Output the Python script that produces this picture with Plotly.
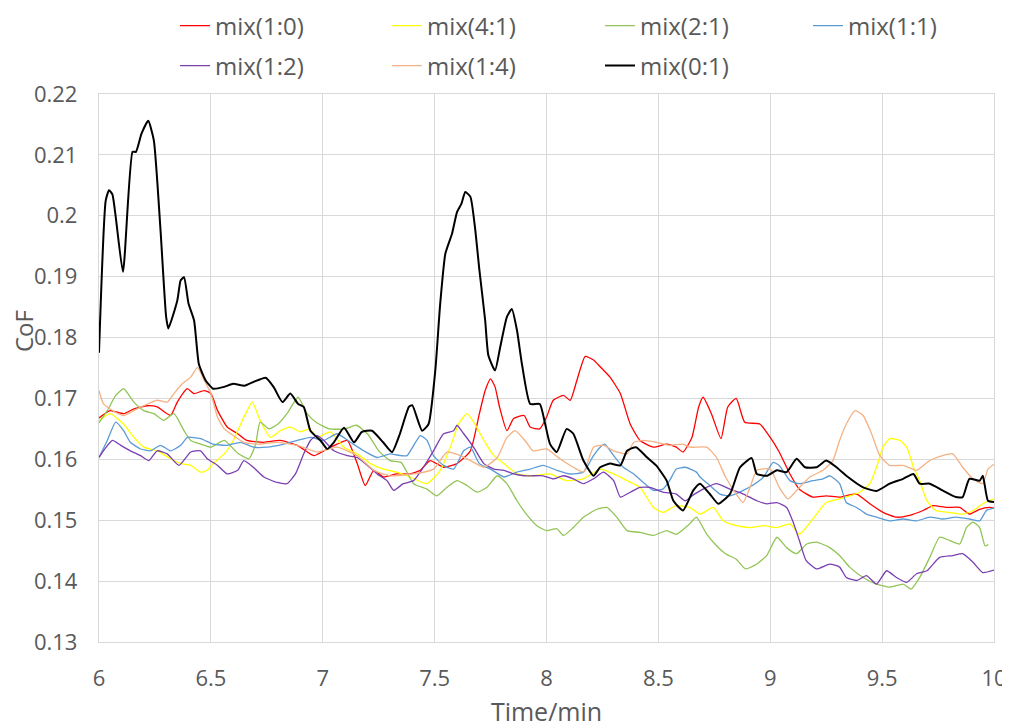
import plotly.graph_objects as go

# ---- data (time in min, CoF) ----
mix_1_0 = [(6.0,0.1668),(6.05,0.1680),(6.11,0.1675),(6.156,0.1683),(6.216,0.1688),(6.26,0.1686),(6.32,0.1672),
           (6.35,0.1694),(6.395,0.1716),(6.424,0.1708),(6.47,0.1713),(6.5,0.1708),(6.53,0.1680),(6.573,0.1653),
           (6.62,0.1642),(6.66,0.1631),(6.737,0.1628),(6.81,0.1631),(6.886,0.1623),(6.96,0.1606),(7.005,0.1614),
           (7.064,0.1625),(7.11,0.1631),(7.154,0.1593),(7.19,0.1557),(7.228,0.1582),(7.272,0.1571),(7.33,0.1576),
           (7.39,0.1576),(7.436,0.1582),(7.48,0.1598),(7.54,0.1587),(7.60,0.1593),(7.66,0.1614),(7.70,0.1675),
           (7.726,0.1713),(7.75,0.1732),(7.77,0.1719),(7.79,0.1686),(7.823,0.1647),(7.853,0.1667),(7.90,0.1672),
           (7.927,0.1653),(7.97,0.1650),(8.0,0.1669),(8.03,0.1697),(8.076,0.1705),(8.106,0.1697),(8.136,0.1730),
           (8.173,0.1769),(8.21,0.1763),(8.24,0.1752),(8.284,0.1735),(8.33,0.1708),(8.374,0.1658),(8.418,0.1631),
           (8.478,0.1620),(8.537,0.1625),(8.58,0.1620),(8.61,0.1612),(8.65,0.1636),(8.68,0.1686),(8.70,0.1702),
           (8.737,0.1675),(8.78,0.1634),(8.81,0.1686),(8.848,0.1700),(8.886,0.1661),(8.953,0.1658),(9.0,0.1636),
           (9.04,0.1612),(9.088,0.1576),(9.13,0.1551),(9.19,0.1538),(9.25,0.1540),(9.31,0.1538),(9.386,0.1543),
           (9.445,0.1527),(9.504,0.1513),(9.564,0.1505),(9.623,0.1508),(9.683,0.1516),(9.728,0.1524),(9.787,0.1521),
           (9.847,0.1521),(9.89,0.1510),(9.936,0.1518),(9.98,0.1521),(10.0,0.1520)]

mix_4_1 = [(6.0,0.1664),(6.05,0.1675),(6.11,0.1658),(6.156,0.1636),(6.2,0.1620),(6.26,0.1614),(6.32,0.1601),
           (6.365,0.1593),(6.41,0.1590),(6.454,0.1579),(6.484,0.1582),(6.51,0.1593),(6.56,0.1609),(6.60,0.1631),
           (6.647,0.1669),(6.685,0.1694),(6.72,0.1664),(6.766,0.1636),(6.81,0.1647),(6.855,0.1653),(6.90,0.1645),
           (6.94,0.1650),(6.975,0.1636),(7.034,0.1645),(7.094,0.1620),(7.154,0.1609),(7.213,0.1593),(7.272,0.1584),
           (7.33,0.1579),(7.39,0.1571),(7.466,0.1560),(7.525,0.1582),(7.57,0.1620),(7.607,0.1658),(7.645,0.1675),
           (7.68,0.1658),(7.72,0.1631),(7.765,0.1606),(7.81,0.1593),(7.868,0.1576),(7.94,0.1573),(8.016,0.1576),
           (8.09,0.1565),(8.165,0.1568),(8.24,0.1584),(8.3,0.1576),(8.36,0.1565),(8.418,0.1554),(8.478,0.1521),
           (8.52,0.1513),(8.58,0.1524),(8.64,0.1521),(8.686,0.1510),(8.746,0.1521),(8.79,0.1499),(8.85,0.1491),
           (8.91,0.1488),(8.97,0.1491),(9.03,0.1488),(9.088,0.1494),(9.13,0.1477),(9.16,0.1488),(9.207,0.1510),
           (9.25,0.1529),(9.31,0.1535),(9.355,0.1540),(9.40,0.1546),(9.445,0.1560),(9.475,0.1587),(9.504,0.1620),
           (9.534,0.1634),(9.58,0.1631),(9.61,0.1620),(9.64,0.1587),(9.668,0.1565),(9.70,0.1532),(9.74,0.1516),
           (9.80,0.1513),(9.86,0.1510),(9.906,0.1516),(9.95,0.1527),(10.0,0.1535)]

mix_2_1 = [(6.0,0.1660),(6.037,0.1680),(6.075,0.1705),(6.11,0.1716),(6.156,0.1694),(6.2,0.1680),(6.245,0.1675),
           (6.29,0.1664),(6.335,0.1675),(6.38,0.1647),(6.41,0.1631),(6.454,0.1625),(6.5,0.1620),(6.56,0.1631),
           (6.62,0.1610),(6.67,0.1601),(6.70,0.1625),(6.72,0.1661),(6.76,0.1650),(6.80,0.1658),(6.84,0.1675),
           (6.89,0.1702),(6.93,0.1675),(6.97,0.1661),(7.03,0.1650),(7.1,0.1650),(7.15,0.1656),(7.2,0.1642),
           (7.25,0.1614),(7.3,0.1598),(7.35,0.1595),(7.406,0.1560),(7.466,0.1551),(7.51,0.1540),(7.555,0.1554),
           (7.60,0.1565),(7.645,0.1557),(7.69,0.1546),(7.734,0.1554),(7.78,0.1573),(7.823,0.1560),(7.868,0.1532),
           (7.91,0.1510),(7.957,0.1491),(8.0,0.1483),(8.046,0.1486),(8.076,0.1475),(8.12,0.1488),(8.165,0.1505),
           (8.225,0.1518),(8.27,0.1521),(8.314,0.1505),(8.36,0.1483),(8.418,0.1480),(8.478,0.1475),(8.537,0.1483),
           (8.58,0.1477),(8.64,0.1494),(8.67,0.1505),(8.716,0.1477),(8.76,0.1458),(8.80,0.1445),(8.848,0.1436),
           (8.89,0.1420),(8.94,0.1428),(8.984,0.1442),(9.03,0.1472),(9.073,0.1455),(9.118,0.1445),(9.163,0.1461),
           (9.207,0.1464),(9.266,0.1455),(9.31,0.1442),(9.355,0.1423),(9.415,0.1406),(9.475,0.1395),(9.534,0.1390),
           (9.594,0.1395),(9.63,0.1387),(9.668,0.1406),(9.713,0.1439),(9.757,0.1472),(9.80,0.1467),(9.847,0.1461),
           (9.877,0.1488),(9.906,0.1497),(9.936,0.1488),(9.96,0.1458),(9.975,0.1460)]

mix_1_1 = [(6.0,0.1603),(6.037,0.1631),(6.075,0.1661),(6.11,0.1647),(6.14,0.1628),(6.186,0.1617),(6.23,0.1614),
           (6.275,0.1623),(6.32,0.1614),(6.365,0.1623),(6.395,0.1636),(6.454,0.1634),(6.51,0.1625),(6.573,0.1623),
           (6.633,0.1628),(6.69,0.1620),(6.75,0.1620),(6.826,0.1625),(6.886,0.1631),(6.945,0.1636),(7.005,0.1631),
           (7.064,0.1642),(7.124,0.1628),(7.183,0.1614),(7.243,0.1603),(7.30,0.1609),(7.35,0.1606),(7.377,0.1606),
           (7.436,0.1639),(7.466,0.1631),(7.495,0.1606),(7.54,0.1590),(7.585,0.1584),(7.63,0.1614),(7.66,0.1620),
           (7.70,0.1593),(7.75,0.1584),(7.81,0.1571),(7.868,0.1579),(7.927,0.1584),(7.985,0.1590),(8.046,0.1582),
           (8.106,0.1576),(8.165,0.1579),(8.21,0.1606),(8.24,0.1620),(8.26,0.1625),(8.3,0.1606),(8.343,0.1587),
           (8.39,0.1576),(8.433,0.1562),(8.478,0.1549),(8.52,0.1551),(8.55,0.1565),(8.58,0.1584),(8.62,0.1587),
           (8.67,0.1579),(8.686,0.1571),(8.73,0.1557),(8.775,0.1543),(8.82,0.1540),(8.88,0.1549),(8.92,0.1557),
           (8.97,0.1571),(9.013,0.1595),(9.04,0.1590),(9.088,0.1565),(9.13,0.1560),(9.19,0.1565),(9.236,0.1568),
           (9.266,0.1573),(9.31,0.1560),(9.34,0.1529),(9.386,0.1521),(9.43,0.1510),(9.475,0.1505),(9.534,0.1499),
           (9.594,0.1502),(9.654,0.1499),(9.713,0.1505),(9.77,0.1502),(9.83,0.1505),(9.89,0.1502),(9.936,0.1499),
           (9.966,0.1516),(10.0,0.1520)]

mix_1_2 = [(6.0,0.1603),(6.02,0.1614),(6.06,0.1631),(6.097,0.1623),(6.14,0.1614),(6.186,0.1606),(6.223,0.1598),
           (6.26,0.1614),(6.305,0.1609),(6.357,0.1590),(6.41,0.1612),(6.454,0.1614),(6.484,0.1601),(6.53,0.1590),
           (6.573,0.1576),(6.62,0.1582),(6.647,0.1598),(6.69,0.1587),(6.737,0.1571),(6.796,0.1562),(6.84,0.1560),
           (6.878,0.1576),(6.915,0.1609),(6.945,0.1631),(6.975,0.1639),(7.005,0.1631),(7.05,0.1614),(7.11,0.1606),
           (7.154,0.1603),(7.2,0.1590),(7.243,0.1576),(7.287,0.1565),(7.317,0.1549),(7.36,0.1560),(7.406,0.1565),
           (7.45,0.1587),(7.495,0.1614),(7.54,0.1642),(7.585,0.1647),(7.60,0.1656),(7.63,0.1642),(7.674,0.1620),
           (7.72,0.1593),(7.765,0.1584),(7.81,0.1582),(7.853,0.1576),(7.90,0.1573),(7.94,0.1573),(7.985,0.1573),
           (8.03,0.1568),(8.076,0.1573),(8.12,0.1568),(8.165,0.1560),(8.21,0.1568),(8.255,0.1579),(8.3,0.1565),
           (8.33,0.1538),(8.374,0.1546),(8.418,0.1554),(8.463,0.1554),(8.52,0.1546),(8.58,0.1543),(8.62,0.1532),
           (8.65,0.1540),(8.70,0.1551),(8.76,0.1560),(8.82,0.1551),(8.88,0.1543),(8.94,0.1532),(8.984,0.1527),
           (9.03,0.1529),(9.073,0.1521),(9.1,0.1499),(9.13,0.1467),(9.16,0.1434),(9.207,0.1420),(9.266,0.1428),
           (9.31,0.1423),(9.34,0.1406),(9.386,0.1401),(9.43,0.1409),(9.475,0.1395),(9.52,0.1417),(9.564,0.1406),
           (9.61,0.1398),(9.654,0.1412),(9.70,0.1417),(9.757,0.1439),(9.816,0.1442),(9.86,0.1445),(9.906,0.1431),
           (9.95,0.1414),(10.0,0.1418)]

mix_1_4 = [(6.0,0.1713),(6.02,0.1691),(6.075,0.1677),(6.11,0.1672),(6.156,0.1680),(6.2,0.1688),(6.26,0.1697),
           (6.305,0.1694),(6.335,0.1708),(6.372,0.1724),(6.41,0.1735),(6.44,0.1751),(6.47,0.1730),(6.5,0.1708),
           (6.53,0.1669),(6.56,0.1650),(6.60,0.1639),(6.647,0.1628),(6.707,0.1625),(6.796,0.1628),(6.886,0.1623),
           (6.975,0.1612),(7.064,0.1620),(7.154,0.1606),(7.228,0.1582),(7.30,0.1573),(7.406,0.1576),(7.495,0.1584),
           (7.555,0.1612),(7.615,0.1606),(7.66,0.1598),(7.72,0.1587),(7.78,0.1603),(7.823,0.1636),(7.86,0.1647),
           (7.91,0.1628),(7.94,0.1614),(8.0,0.1617),(8.06,0.1601),(8.12,0.1587),(8.165,0.1579),(8.21,0.1620),
           (8.255,0.1623),(8.3,0.1614),(8.36,0.1609),(8.39,0.1628),(8.433,0.1631),(8.49,0.1628),(8.55,0.1623),
           (8.61,0.1625),(8.64,0.1620),(8.716,0.1620),(8.76,0.1603),(8.80,0.1571),(8.848,0.1543),(8.878,0.1529),
           (8.91,0.1554),(8.94,0.1582),(9.0,0.1584),(9.04,0.1554),(9.08,0.1535),(9.118,0.1549),(9.177,0.1571),
           (9.236,0.1582),(9.28,0.1598),(9.31,0.1631),(9.34,0.1658),(9.38,0.1680),(9.415,0.1672),(9.453,0.1642),
           (9.49,0.1606),(9.534,0.1590),(9.594,0.1590),(9.654,0.1582),(9.713,0.1598),(9.77,0.1606),(9.816,0.1609),
           (9.86,0.1587),(9.906,0.1568),(9.95,0.1560),(9.973,0.1584),(10.0,0.1592)]

mix_0_1 = [(6.0,0.1775),(6.03,0.2025),(6.045,0.2042),(6.06,0.2035),(6.107,0.1908),(6.15,0.2105),(6.165,0.2105),
           (6.19,0.2135),(6.22,0.2156),(6.245,0.2124),(6.275,0.1976),(6.3,0.1834),(6.31,0.1815),(6.35,0.1861),
           (6.365,0.1894),(6.38,0.1899),(6.40,0.1856),(6.425,0.1828),(6.446,0.1757),(6.476,0.1730),(6.51,0.1716),
           (6.56,0.1719),(6.60,0.1724),(6.65,0.1721),(6.69,0.1727),(6.745,0.1734),(6.78,0.1719),(6.82,0.1694),
           (6.855,0.1708),(6.89,0.1691),(6.915,0.1686),(6.945,0.1647),(6.99,0.1631),(7.02,0.1617),(7.05,0.1628),
           (7.095,0.1652),(7.14,0.1628),(7.175,0.1645),(7.22,0.1647),(7.27,0.1628),(7.31,0.1612),(7.345,0.1642),
           (7.385,0.1686),(7.40,0.1689),(7.444,0.1647),(7.473,0.1658),(7.503,0.1746),(7.525,0.1856),(7.548,0.1938),
           (7.578,0.1971),(7.60,0.2006),(7.62,0.2020),(7.637,0.2039),(7.66,0.2031),(7.68,0.1982),(7.70,0.1911),
           (7.726,0.1828),(7.74,0.1771),(7.77,0.1746),(7.793,0.1784),(7.823,0.1834),(7.845,0.1847),(7.868,0.1812),
           (7.89,0.1757),(7.927,0.1691),(7.97,0.1691),(7.994,0.1658),(8.016,0.1625),(8.046,0.1612),(8.09,0.1650),
           (8.12,0.1642),(8.165,0.1598),(8.21,0.1573),(8.24,0.1587),(8.284,0.1593),(8.33,0.1590),(8.36,0.1614),
           (8.40,0.1620),(8.45,0.1603),(8.49,0.1590),(8.537,0.1565),(8.567,0.1532),(8.61,0.1516),(8.656,0.1549),
           (8.686,0.1560),(8.73,0.1543),(8.768,0.1527),(8.82,0.1543),(8.865,0.1587),(8.917,0.1602),(8.94,0.1576),
           (8.984,0.1573),(9.03,0.1582),(9.073,0.1579),(9.118,0.1601),(9.155,0.1587),(9.207,0.1587),(9.25,0.1598),
           (9.296,0.1587),(9.34,0.1573),(9.415,0.1554),(9.475,0.1548),(9.534,0.1560),(9.594,0.1568),(9.64,0.1576),
           (9.668,0.1560),(9.713,0.1560),(9.77,0.1549),(9.83,0.1538),(9.86,0.1538),(9.89,0.1568),(9.936,0.1565),
           (9.95,0.1573),(9.973,0.1532),(10.0,0.1530)]

series_names = ["mix(1:0)", "mix(4:1)", "mix(2:1)", "mix(1:1)", "mix(1:2)", "mix(1:4)", "mix(0:1)"]
series_data = [mix_1_0, mix_4_1, mix_2_1, mix_1_1, mix_1_2, mix_1_4, mix_0_1]
series_colors = ["#ff0000", "#ffff00", "#92c456", "#5b9bd5", "#7a3fb0", "#f4b183", "#000000"]
series_widths = [1.3, 1.3, 1.3, 1.3, 1.3, 1.3, 2.0]

y_ticks = [0.13, 0.14, 0.15, 0.16, 0.17, 0.18, 0.19, 0.20, 0.21, 0.22]
y_ticklabels = ["0.13", "0.14", "0.15", "0.16", "0.17", "0.18", "0.19", "0.2", "0.21", "0.22"]
x_ticks = [6, 6.5, 7, 7.5, 8, 8.5, 9, 9.5, 10]
x_ticklabels = ["6", "6.5", "7", "7.5", "8", "8.5", "9", "9.5", "10"]

FONT = "'Open Sans', 'Noto Sans', sans-serif"
TXT = "#595959"
GRID = "#d9d9d9"

# the page body has an 8px margin; size the figure to fill the rest of the window
W, H = 1002, 720
OFF = 8

# legend grid: 4 columns x 2 rows (window pixel positions of entries)
legend_cols_px = [175, 387, 600, 808]
legend_rows_px = [26, 66]

fig = go.Figure()
legend_layout = {}
for i, (name, pts, col, w) in enumerate(zip(series_names, series_data, series_colors, series_widths)):
    xs = [p[0] for p in pts]
    ys = [p[1] for p in pts]
    lg = "legend" if i == 0 else f"legend{i+1}"
    fig.add_trace(go.Scatter(x=xs, y=ys, mode="lines", name=name,
                             line=dict(color=col, width=w, shape="spline", smoothing=0.5),
                             legend=lg))
    cx = legend_cols_px[i % 4] - OFF
    cy = legend_rows_px[i // 4] - OFF
    legend_layout[lg] = dict(orientation="h", xref="container", yref="container",
                             x=cx / W, y=1 - cy / H, xanchor="left", yanchor="middle",
                             font=dict(family=FONT, size=24, color=TXT),
                             bgcolor="rgba(0,0,0,0)", itemwidth=30)

fig.update_layout(
    width=W, height=H,
    margin=dict(l=99 - OFF, r=16, t=94 - OFF, b=86, autoexpand=False),
    paper_bgcolor="white", plot_bgcolor="white",
    font=dict(family=FONT, size=22, color=TXT),
    showlegend=True,
    xaxis=dict(range=[6, 10], tickvals=x_ticks, ticktext=x_ticklabels,
               showgrid=True, gridcolor=GRID, gridwidth=1.3,
               showline=True, linecolor=GRID, linewidth=1.3, mirror=True,
               ticks="", ticklabelstandoff=16, ticklabeloverflow="allow", zeroline=False,
               tickfont=dict(family=FONT, size=22, color=TXT),
               title=dict(text="Time/min", standoff=14, font=dict(family=FONT, size=25, color=TXT))),
    yaxis=dict(range=[0.13, 0.22], tickvals=y_ticks, ticktext=y_ticklabels,
               showgrid=True, gridcolor=GRID, gridwidth=1.3,
               showline=True, linecolor=GRID, linewidth=1.3, mirror=True,
               ticks="", ticklabelstandoff=16, ticklabeloverflow="allow", zeroline=False,
               tickfont=dict(family=FONT, size=22, color=TXT)),
    annotations=[dict(text="CoF", textangle=-90, xref="paper", yref="paper",
                      x=(23 - 99) / 895, y=(642 - 331) / 548, xanchor="center", yanchor="middle",
                      showarrow=False, font=dict(family=FONT, size=24, color=TXT))],
    **legend_layout,
)

fig.write_html("out.html")
